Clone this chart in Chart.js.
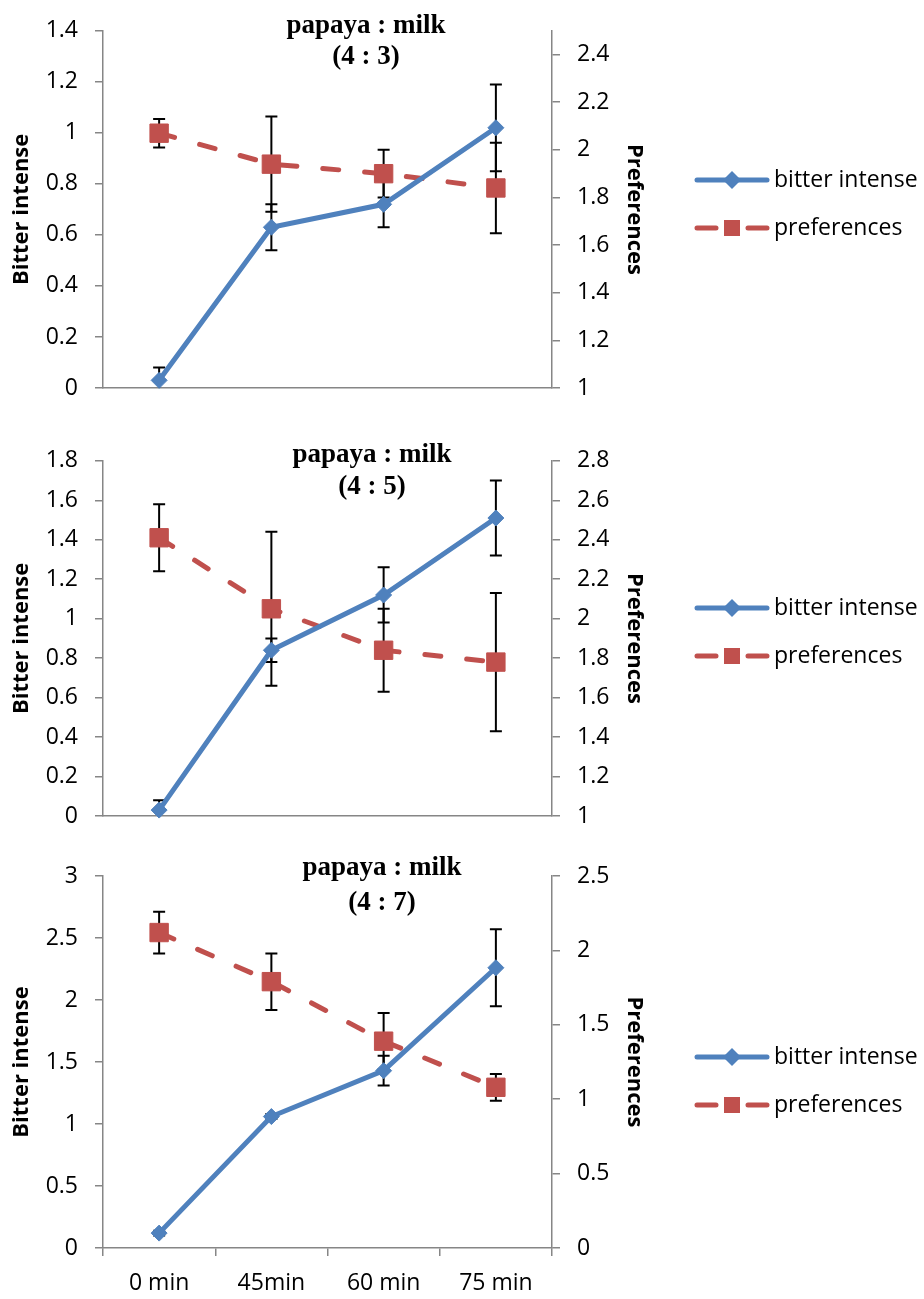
<!DOCTYPE html>
<html lang="en">
<head>
<meta charset="UTF-8">
<title>papaya : milk</title>
<script src="https://cdn.jsdelivr.net/npm/chart.js"></script>
<style>
  body { margin: 0; background: #fff; }
  .panel { position: absolute; left: 0; }
</style>
</head>
<body>
<div class="panel" style="top:0px"><canvas id="chart43" width="924" height="430"></canvas></div>
<div class="panel" style="top:430px"><canvas id="chart45" width="924" height="430"></canvas></div>
<div class="panel" style="top:845px"><canvas id="chart47" width="924" height="454"></canvas></div>

<script>
  // data
  const timeLabels = ['0 min', '45min', '60 min', '75 min'];
  const titleText = 'papaya : milk';
  const ratioLabels = ['(4 : 3)', '(4 : 5)', '(4 : 7)'];
  const seriesNames = ['bitter intense', 'preferences'];
  const axisTitles = ['Bitter intense', 'Preferences'];

  const bitter43 = [0.03, 0.63, 0.72, 1.02];
  const bitter43Err = [0.05, 0.09, 0.09, 0.17];
  const pref43 = [2.07, 1.94, 1.90, 1.84];
  const pref43Err = [0.06, 0.20, 0.10, 0.19];

  const bitter45 = [0.03, 0.84, 1.12, 1.51];
  const bitter45Err = [0.05, 0.06, 0.14, 0.19];
  const pref45 = [2.41, 2.05, 1.84, 1.78];
  const pref45Err = [0.17, 0.39, 0.21, 0.35];

  const bitter47 = [0.12, 1.06, 1.43, 2.26];
  const bitter47Err = [0.02, 0.02, 0.12, 0.31];
  const pref47 = [2.12, 1.79, 1.39, 1.08];
  const pref47Err = [0.14, 0.19, 0.19, 0.09];

  // axis ticks
  const bitter43Ticks = [0, 0.2, 0.4, 0.6, 0.8, 1, 1.2, 1.4];
  const pref43Ticks = [1, 1.2, 1.4, 1.6, 1.8, 2, 2.2, 2.4];
  const bitter45Ticks = [0, 0.2, 0.4, 0.6, 0.8, 1, 1.2, 1.4, 1.6, 1.8];
  const pref45Ticks = [1, 1.2, 1.4, 1.6, 1.8, 2, 2.2, 2.4, 2.6, 2.8];
  const bitter47Ticks = [0, 0.5, 1, 1.5, 2, 2.5, 3];
  const pref47Ticks = [0, 0.5, 1, 1.5, 2, 2.5];

  const BLUE = '#4F81BD';
  const RED = '#C0504D';
  const AXIS = '#868686';

  Chart.defaults.font.family = "'Open Sans', sans-serif";
  Chart.defaults.color = '#000';

  // vertical error bars with caps, drawn under the markers, clipped to the plot
  const errorBarPlugin = {
    id: 'errorBars',
    beforeDatasetsDraw(chart) {
      const ctx = chart.ctx;
      const a = chart.chartArea;
      ctx.save();
      ctx.beginPath();
      ctx.rect(a.left - 10, a.top - 10, a.right - a.left + 20, a.bottom - a.top + 10);
      ctx.clip();
      ctx.strokeStyle = '#000';
      ctx.lineWidth = 2;
      chart.data.datasets.forEach((ds, i) => {
        const meta = chart.getDatasetMeta(i);
        const scale = chart.scales[ds.yAxisID];
        meta.data.forEach((pt, j) => {
          const top = scale.getPixelForValue(ds.data[j] + ds.errors[j]);
          const bot = scale.getPixelForValue(ds.data[j] - ds.errors[j]);
          ctx.beginPath();
          ctx.moveTo(pt.x, top); ctx.lineTo(pt.x, bot);
          ctx.moveTo(pt.x - 6, top); ctx.lineTo(pt.x + 6, top);
          ctx.moveTo(pt.x - 6, bot); ctx.lineTo(pt.x + 6, bot);
          ctx.stroke();
        });
      });
      ctx.restore();
    }
  };

  // two-line title sitting inside the plot
  const boxTitlePlugin = {
    id: 'boxTitle',
    afterDraw(chart, args, o) {
      const ctx = chart.ctx;
      ctx.save();
      ctx.fillStyle = '#000';
      ctx.font = "bold 27px 'Liberation Serif', serif";
      ctx.textAlign = 'center';
      ctx.textBaseline = 'middle';
      o.lines.forEach((t, i) => ctx.fillText(t, o.x, o.y[i]));
      ctx.restore();
    }
  };

  // legend on the right: line + marker + name
  const sideLegendPlugin = {
    id: 'sideLegend',
    afterDraw(chart, args, o) {
      const ctx = chart.ctx;
      chart.data.datasets.forEach((ds, i) => {
        const y = o.y + i * o.gap;
        const x0 = o.x, x1 = o.x + 70, xm = o.x + 35;
        ctx.save();
        ctx.strokeStyle = ds.borderColor;
        ctx.fillStyle = ds.borderColor;
        ctx.lineWidth = 5;
        ctx.lineCap = 'round';
        ctx.beginPath();
        if (ds.borderDash) {
          ctx.moveTo(x0, y); ctx.lineTo(x0 + 19, y);
          ctx.moveTo(x1 - 19, y); ctx.lineTo(x1, y);
        } else {
          ctx.moveTo(x0, y); ctx.lineTo(x1, y);
        }
        ctx.stroke();
        ctx.beginPath();
        if (ds.pointStyle === 'rectRot') {
          ctx.moveTo(xm - 9, y); ctx.lineTo(xm, y - 9);
          ctx.lineTo(xm + 9, y); ctx.lineTo(xm, y + 9);
        } else {
          ctx.rect(xm - 8, y - 8, 16, 16);
        }
        ctx.closePath();
        ctx.fill();
        ctx.fillStyle = '#000';
        ctx.font = "23px 'Open Sans', sans-serif";
        ctx.textBaseline = 'middle';
        ctx.fillText(ds.label, o.x + 77, y);
        ctx.restore();
      });
    }
  };

  const fmt = v => +v.toFixed(1);

  function buildChart(id, c) {
    return new Chart(document.getElementById(id), {
      type: 'line',
      data: {
        labels: timeLabels,
        datasets: [
          {
            label: seriesNames[0], data: c.bitter, errors: c.bitterErr, yAxisID: 'y',
            borderColor: BLUE, backgroundColor: BLUE, borderWidth: 5,
            pointStyle: 'rectRot', pointRadius: 8, pointBorderWidth: 1,
            pointBackgroundColor: BLUE, pointBorderColor: BLUE,
            tension: 0, order: 0, clip: false
          },
          {
            label: seriesNames[1], data: c.pref, errors: c.prefErr, yAxisID: 'y1',
            borderColor: RED, backgroundColor: RED, borderWidth: 5,
            borderDash: [16, 26], borderCapStyle: 'round',
            pointStyle: 'rect', pointRadius: 13, pointBorderWidth: 1,
            pointBackgroundColor: RED, pointBorderColor: RED,
            tension: 0, order: 1, clip: false
          }
        ]
      },
      options: {
        responsive: false,
        animation: false,
        events: [],
        layout: { padding: { top: c.padTop, left: 0, right: 272, bottom: 0 } },
        plugins: {
          legend: { display: false },
          tooltip: { enabled: false },
          boxTitle: { lines: [titleText, c.ratio], x: c.titleX, y: c.titleY },
          sideLegend: { x: 697, y: c.legendY, gap: 48 }
        },
        scales: {
          x: {
            offset: true,
            grid: { display: true, drawOnChartArea: false, drawTicks: c.showX, tickLength: 8,
                    color: AXIS, lineWidth: 1.5, offset: true },
            border: { color: AXIS, width: 1.5 },
            ticks: { display: c.showX, color: '#000', padding: 14, font: { size: 23 },
                     maxRotation: 0, autoSkip: false },
            afterFit: s => { s.height = c.xHeight; }
          },
          y: {
            position: 'left',
            bounds: 'data',
            min: c.yMin, max: c.yMax,
            ticks: { color: '#000', padding: 17, font: { size: 23 }, callback: fmt },
            grid: { drawOnChartArea: false, tickLength: 8, color: AXIS, lineWidth: 1.5 },
            border: { color: AXIS, width: 1.5 },
            title: { display: true, text: axisTitles[0], color: '#000',
                     font: { size: 22, weight: 'bold' }, padding: { top: 9, bottom: 0 } },
            afterBuildTicks: s => { s.ticks = c.yTicks.map(v => ({ value: v })); },
            afterFit: s => { s.width = 103; }
          },
          y1: {
            position: 'right',
            bounds: 'data',
            min: c.y1Min, max: c.y1Max,
            ticks: { color: '#000', padding: 17, font: { size: 23 }, callback: fmt },
            grid: { drawOnChartArea: false, tickLength: 8, color: AXIS, lineWidth: 1.5 },
            border: { color: AXIS, width: 1.5 },
            title: { display: true, text: axisTitles[1], color: '#000',
                     font: { size: 22, weight: 'bold' }, padding: { top: 5, bottom: 0 } },
            // axis may run past its last tick (chart 1 goes to 2.5, labelled to 2.4)
            afterBuildTicks: s => { s.ticks = c.y1Ticks.map(v => ({ value: v })); },
            afterFit: s => { s.width = 100; }
          }
        }
      },
      plugins: [errorBarPlugin, boxTitlePlugin, sideLegendPlugin]
    });
  }

  buildChart('chart43', {
    bitter: bitter43, bitterErr: bitter43Err, pref: pref43, prefErr: pref43Err,
    ratio: ratioLabels[0], titleX: 366, titleY: [26, 57], legendY: 180,
    padTop: 19, xHeight: 42, showX: false,
    yMin: 0, yMax: 1.4, yTicks: bitter43Ticks, y1Min: 1, y1Max: 2.5, y1Ticks: pref43Ticks
  });

  buildChart('chart45', {
    bitter: bitter45, bitterErr: bitter45Err, pref: pref45, prefErr: pref45Err,
    ratio: ratioLabels[1], titleX: 372, titleY: [25, 57], legendY: 178,
    padTop: 17, xHeight: 44, showX: false,
    yMin: 0, yMax: 1.8, yTicks: bitter45Ticks, y1Min: 1, y1Max: 2.8, y1Ticks: pref45Ticks
  });

  buildChart('chart47', {
    bitter: bitter47, bitterErr: bitter47Err, pref: pref47, prefErr: pref47Err,
    ratio: ratioLabels[2], titleX: 382, titleY: [23, 58], legendY: 212,
    padTop: 31, xHeight: 51, showX: true,
    yMin: 0, yMax: 3, yTicks: bitter47Ticks, y1Min: 0, y1Max: 2.5, y1Ticks: pref47Ticks
  });
</script>
</body>
</html>
